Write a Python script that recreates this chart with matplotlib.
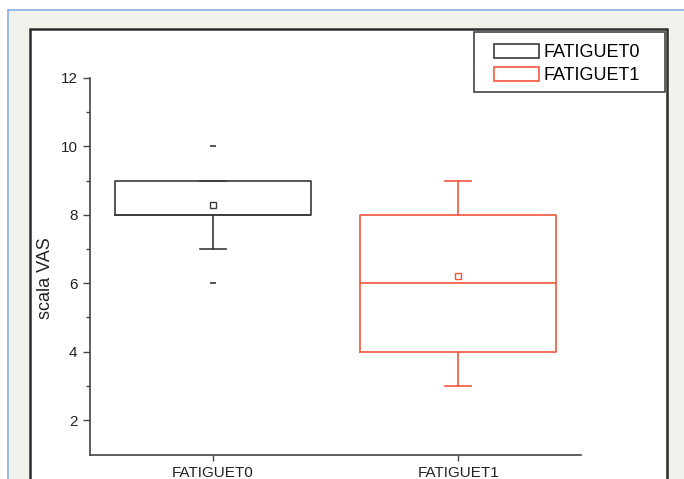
import matplotlib.pyplot as plt
import numpy as np
from matplotlib.patches import Patch, Rectangle
from matplotlib.lines import Line2D

plt.rcParams['font.family'] = ['Liberation Sans', 'DejaVu Sans']

# box statistics
labels = ['FATIGUET0', 'FATIGUET1']
q1 = [8, 4]
medians = [8, 6]
q3 = [9, 8]
whislo = [7, 3]
whishi = [9, 9]
means = [8.28, 6.22]
extremes = [[6, 10], []]
colors = ['#3a3a3a', '#f4573c']

W, H = 684, 479
fig = plt.figure(figsize=(W / 100, H / 100), dpi=100, facecolor='white')

# gray window background with blue top/left border
fig.patches.append(Rectangle((8 / W, 0), 1, 1 - 10 / H, transform=fig.transFigure,
                             facecolor='#f2f2ed', edgecolor='none', zorder=-3))
fig.add_artist(Line2D([8 / W, 1], [1 - 10 / H, 1 - 10 / H], color='#86b0e6', lw=1.2))
fig.add_artist(Line2D([8 / W, 8 / W], [0, 1 - 10 / H], color='#86b0e6', lw=1.2))
# white graph page with dark frame
fig.patches.append(Rectangle((30 / W, -0.05), 637 / W, 1.05 - 29 / H, transform=fig.transFigure,
                             facecolor='white', edgecolor='#2b2b2b', lw=1.8, zorder=-2))

ax = fig.add_axes([90 / W, 24 / H, 491 / W, 377 / H])
ax.set_facecolor('none')

for i in range(len(labels)):
    c = colors[i]
    st = dict(label=labels[i], med=medians[i], q1=q1[i], q3=q3[i],
              whislo=whislo[i], whishi=whishi[i], mean=means[i],
              fliers=np.array(extremes[i], dtype=float))
    ax.bxp([st], positions=[i + 1], widths=0.8, capwidths=0.106, showmeans=True,
           boxprops=dict(color=c, lw=1.2),
           whiskerprops=dict(color=c, lw=1.2),
           capprops=dict(color=c, lw=1.2),
           medianprops=dict(color=c, lw=1.2),
           meanprops=dict(marker='s', markerfacecolor='white', markeredgecolor=c,
                          markersize=4, markeredgewidth=1),
           flierprops=dict(marker='_', markeredgecolor=c, markersize=5, markeredgewidth=1.2))

ax.set_xlim(0.5, 2.5)
ax.set_ylim(0.98, 12)
ax.set_xticks([1, 2])
ax.set_xticklabels(labels, fontsize=11, color='#222222')
ax.set_yticks(np.arange(2, 13, 2))
ax.set_yticks([3, 5, 7, 9, 11], minor=True)
ax.tick_params(axis='y', which='major', direction='out', length=5, width=1, pad=4,
               labelsize=11, colors='#444444', labelcolor='#222222')
ax.tick_params(axis='y', which='minor', direction='out', length=3, width=1, colors='#444444')
ax.tick_params(axis='x', direction='out', length=4, width=1, pad=4, colors='#444444',
               labelcolor='#222222')
for s in ['top', 'right']:
    ax.spines[s].set_visible(False)
for s in ['left', 'bottom']:
    ax.spines[s].set_color('#444444')
    ax.spines[s].set_linewidth(1.2)
ax.spines['left'].set_bounds(0.98, 12)

ax.set_ylabel('scala VAS', fontsize=13, color='#222222')
ax.yaxis.set_label_coords(-0.074, 0.47)

# legend
fig.patches.append(Rectangle((474 / W, 1 - 92 / H), 191 / W, 60 / H, transform=fig.transFigure,
                             facecolor='white', edgecolor='#444444', lw=1.2, zorder=1))
handles = [Patch(facecolor='white', edgecolor=colors[i], lw=1.2, label=labels[i])
           for i in range(len(labels))]
leg = fig.legend(handles=handles, loc='upper left', bbox_to_anchor=(494 / W, 1 - 44 / H),
                 frameon=False, borderpad=0, borderaxespad=0, handlelength=2.5,
                 handleheight=0.85, handletextpad=0.25, labelspacing=0.3, fontsize=13)
leg.set_zorder(2)

plt.savefig('out.png', dpi=100, facecolor=fig.get_facecolor())
